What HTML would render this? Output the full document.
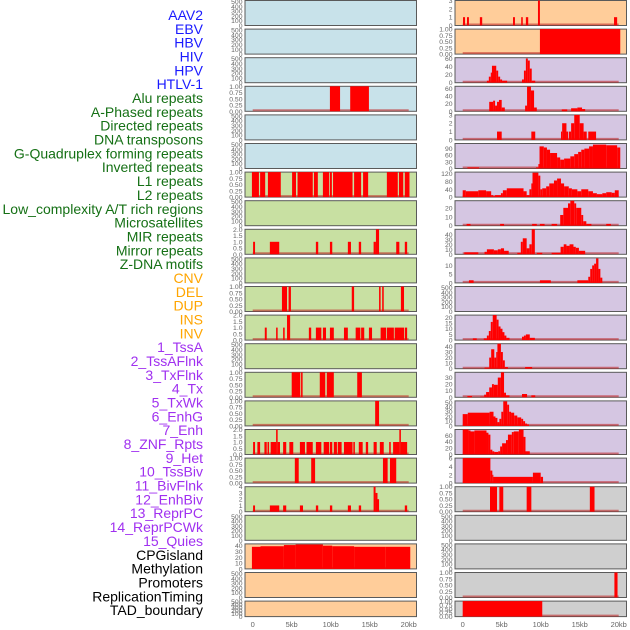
<!DOCTYPE html>
<html><head><meta charset="utf-8"><style>
html,body{margin:0;padding:0;background:#fff;width:630px;height:630px;overflow:hidden}
svg{display:block;font-family:"Liberation Sans",sans-serif}
</style></head><body>
<svg id="chart" width="630" height="630" viewBox="0 0 630 630"></svg>
<script>
const trackLabels = ["AAV2","EBV","HBV","HIV","HPV","HTLV-1","Alu repeats","A-Phased repeats","Directed repeats","DNA transposons","G-Quadruplex forming repeats","Inverted repeats","L1 repeats","L2 repeats","Low_complexity A/T rich regions","Microsatellites","MIR repeats","Mirror repeats","Z-DNA motifs","CNV","DEL","DUP","INS","INV","1_TssA","2_TssAFlnk","3_TxFlnk","4_Tx","5_TxWk","6_EnhG","7_Enh","8_ZNF_Rpts","9_Het","10_TssBiv","11_BivFlnk","12_EnhBiv","13_ReprPC","14_ReprPCWk","15_Quies","CPGisland","Methylation","Promoters","ReplicationTiming","TAD_boundary"];
const labelGroups = [6,13,5,15,5];
const groupColors = ["#1a1aff","#157015","#ffa500","#a030f0","#000000"];
const xTicks = [0,5,10,15,20];
const xTickLabels = ["0","5kb","10kb","15kb","20kb"];

// segments: [startKb, endKb, value]
const L4 = [[9.9,11.2,1],[12.5,14.9,1]];
const L7 = [[-0.1,0.8,1],[0.95,1.6,1],[1.95,3.6,1],[5.05,5.55,1],[5.75,7.7,1],[7.85,8.35,1],[9.0,9.8,1],[9.9,10.15,1],[10.3,12.8,1],[13.0,13.9,1],[14.15,14.8,1],[17.2,18.6,1],[18.75,19.3,1],[19.5,20.1,1]];
const L9 = [[0.05,0.3,1],[2.2,3.4,1],[8.1,8.4,1],[9.9,10.2,1],[12.2,12.6,1],[13.6,13.9,1],[15.5,15.8,1],[15.8,16.2,2],[18.4,18.8,1],[19.5,19.8,1]];
const L11 = [[3.75,4.4,1],[4.6,4.9,1],[12.7,13.0,1],[16.2,16.4,1],[16.6,16.8,1],[19.0,19.4,1]];
const L12 = [[1.55,1.8,1],[3.0,3.2,1],[3.9,4.1,1],[4.4,4.8,2],[7.2,7.5,1],[8.1,8.8,1],[9.0,9.4,1],[9.9,10.4,1],[11.7,12.2,1],[13.2,13.8,1],[13.9,14.3,1],[14.9,15.3,1],[16.4,17.1,1],[17.2,18.1,1],[18.2,19.4,1],[19.5,19.8,1]];
const L14 = [[5.0,6.1,1],[6.2,6.4,1],[8.6,9.3,1],[9.5,10.4,1],[13.4,14.0,1]];
const L15 = [[15.7,16.2,1]];
const L16 = [[0.05,0.3,1],[0.6,0.95,1],[1.5,1.8,1],[1.9,2.1,1],[2.3,3.0,1],[3.0,3.2,2],[3.2,3.5,1],[3.9,4.3,1],[4.7,5.2,1],[6.05,6.7,1],[6.9,7.7,1],[8.1,8.8,1],[9.1,9.8,1],[9.9,10.2,1],[10.4,10.8,1],[10.9,11.4,1],[11.7,12.8,1],[12.9,13.1,1],[13.6,14.1,1],[14.5,14.8,1],[15.5,15.9,1],[16.3,16.8,1],[17.5,17.7,1],[18.0,18.8,1],[18.8,19.0,2],[19.0,19.8,1]];
const L17 = [[5.4,5.9,1],[7.5,8.0,1],[16.7,17.3,1],[17.6,18.4,1]];
const L18 = [[0.05,0.3,1],[2.2,3.4,1],[3.9,4.3,1],[6.05,6.45,1],[8.1,8.4,1],[9.9,10.2,1],[12.2,12.6,1],[13.6,13.9,1],[15.5,15.75,4],[15.75,16.0,3],[16.0,16.2,2],[19.5,19.8,1]];
const L20 = [[-0.1,1,38],[1,4,39],[4,5.5,41],[5.5,9,42],[9,10.2,40],[10.2,13,39],[13,17,38],[17,20.2,38]];

const R1 = [[0.04,0.3,1],[0.55,0.8,1],[2.2,2.5,1],[6.45,6.7,1],[7.5,7.7,1],[8.1,8.4,1],[9.65,9.9,3],[19.4,19.8,1]];
const R2 = [[9.9,20.2,1]];
const R3 = [[3.1,3.35,5],[3.35,3.6,15],[3.6,3.75,25],[3.75,4.3,42],[4.3,4.55,30],[4.55,4.8,15],[4.8,5.05,8],[5.05,5.7,5],[7.6,7.85,8],[7.85,8.1,30],[8.1,8.35,60],[8.35,8.6,55],[8.6,8.85,35],[8.85,9.3,5]];
const R4 = [[3.4,3.9,25],[3.9,4.15,28],[4.15,4.4,15],[4.4,4.65,25],[4.65,5.0,30],[5.0,5.4,10],[8.0,8.25,15],[8.25,8.75,65],[8.75,9.15,55],[9.15,9.5,10],[12.7,13.4,5],[13.9,14.7,8],[14.7,15.3,10],[15.3,15.7,6]];
const R5 = [[4.4,5.0,1],[8.8,9.3,1],[12.6,12.75,1],[12.75,13.3,2],[13.3,13.5,1],[13.6,13.9,1],[13.9,14.3,2],[14.3,15.0,3],[15.0,15.5,2],[15.5,15.9,1],[16.1,17.1,1]];
const R6 = [[0.6,2.1,5],[9.4,9.7,5],[9.7,9.85,20],[9.85,10.4,100],[10.4,10.8,95],[10.8,11.2,85],[11.2,12.1,70],[12.1,12.5,50],[12.5,13.0,40],[13.0,13.8,45],[13.8,14.3,55],[14.3,14.8,65],[14.8,15.2,75],[15.2,15.6,85],[15.6,16.2,90],[16.2,16.7,100],[16.7,18.4,108],[18.4,19.8,105],[19.8,20.2,95]];
const R7 = [[0,0.4,35],[0.4,2.0,30],[2.0,3.0,35],[3.0,3.65,30],[3.65,3.9,10],[3.9,4.15,5],[4.15,4.9,10],[4.9,5.15,20],[5.15,5.65,35],[5.65,7.8,45],[7.8,8.2,30],[8.2,8.55,10],[8.55,8.8,40],[8.8,8.95,70],[8.95,9.7,125],[9.7,9.95,110],[9.95,10.2,40],[10.2,10.7,45],[10.7,11.1,55],[11.1,11.7,70],[11.7,12.1,85],[12.1,12.6,95],[12.6,13.0,70],[13.0,13.6,55],[13.6,14.0,45],[14.0,14.7,40],[14.7,15.2,30],[15.2,16.1,40],[16.1,16.7,30],[16.7,17.2,20],[17.2,17.9,15],[17.9,18.4,20],[18.4,19.1,25],[19.1,19.5,22],[19.5,20.0,35]];
const R8 = [[0.5,1.0,2],[4.8,5.3,2],[8.9,9.5,2],[9.9,10.5,2],[11.4,12.1,2],[12.5,12.9,12],[12.9,13.5,20],[13.5,13.8,25],[13.8,14.3,28],[14.3,14.55,25],[14.55,15.2,20],[15.2,15.45,12],[15.45,15.85,5],[15.85,16.5,2],[18.4,19.0,2]];
const R9 = [[0.2,2.0,4],[2.8,3.1,5],[3.1,4.0,10],[4.0,4.5,8],[4.5,4.9,10],[4.9,5.3,12],[5.3,5.9,7],[7.0,7.45,3],[7.45,7.7,25],[7.7,8.2,32],[8.2,8.55,12],[8.55,8.85,20],[8.85,9.25,50],[9.5,10.2,3],[11.4,12.55,3],[12.55,12.95,15],[12.95,13.3,20],[13.3,13.7,17],[13.7,14.2,20],[14.2,14.5,15],[14.5,14.9,13],[14.9,15.7,7]];
const R10 = [[0.8,1.4,1.5],[9.9,11.3,1.5],[14.7,16.1,1.5],[16.1,16.35,3.5],[16.35,16.6,8],[16.6,16.85,10],[16.85,17.1,11],[17.1,17.4,14],[17.4,17.65,8],[17.65,17.9,3]];
const R12 = [[1.3,1.8,1.5],[2.7,3.1,1.5],[3.1,3.35,4],[3.35,3.6,8],[3.6,3.85,16],[3.85,4.35,22],[4.35,4.6,18],[4.6,4.85,12],[4.85,5.1,10],[5.1,5.35,7],[5.35,5.6,4],[5.6,6.0,2],[7.6,7.85,3],[7.85,8.1,4],[8.1,8.6,5],[8.6,9.25,2]];
const R13 = [[2.8,3.4,2],[3.4,3.65,20],[3.65,4.05,35],[4.05,4.3,20],[4.3,4.45,30],[4.45,4.9,45],[4.9,5.15,30],[5.15,5.4,15],[5.4,5.8,3],[8.0,8.9,3]];
const R14 = [[0.6,1.2,2],[2.25,2.75,1],[2.75,3.0,4],[3.0,3.4,8],[3.4,3.75,15],[3.75,4.0,20],[4.0,4.5,19],[4.5,4.9,30],[4.9,5.3,38],[5.3,5.55,7],[5.55,6.0,3],[7.6,8.25,5],[8.8,9.3,3]];
const R15 = [[0,0.65,25],[0.65,3.45,28],[3.45,3.95,30],[3.95,4.2,20],[4.2,4.45,17],[4.45,4.7,8],[4.7,4.95,15],[4.95,5.2,30],[5.2,5.7,52],[5.7,5.95,45],[5.95,6.2,30],[6.2,6.6,28],[6.6,7.0,22],[7.0,7.5,18],[7.5,7.75,15],[7.75,8.0,10],[8.0,8.25,5],[8.25,8.5,3]];
const R16 = [[0,0.75,78],[0.75,1.0,75],[1.0,1.5,72],[1.5,3.05,75],[3.05,3.3,68],[3.3,3.55,62],[3.55,3.8,15],[3.8,4.05,10],[4.05,4.55,8],[4.55,4.8,10],[4.8,5.05,25],[5.05,5.55,35],[5.55,5.8,45],[5.8,6.3,62],[6.3,6.55,70],[6.55,7.2,72],[7.2,7.8,78],[7.8,8.05,55],[8.05,8.6,10]];
const R17 = [[0,3.55,6],[3.55,3.8,3],[3.8,3.9,2],[3.9,9.0,1.5],[9.0,10.0,2.5],[10.0,10.3,1.5]];
const R18 = [[3.5,4.4,1],[4.7,5.2,1],[8.2,8.8,1],[16.3,16.9,1]];
const R21 = [[19.45,19.85,1]];
const R22 = [[0,10.2,1]];

const emptyTicks = [0,100,200,300,400,500];
const fracTicks = [0,0.25,0.5,0.75,1];
const leftTicks = [emptyTicks,emptyTicks,emptyTicks,fracTicks,emptyTicks,emptyTicks,fracTicks,emptyTicks,[0,0.5,1,1.5,2],emptyTicks,fracTicks,[0,0.5,1,1.5,2],emptyTicks,fracTicks,fracTicks,[0,0.5,1,1.5,2],fracTicks,[0,1,2,3,4],emptyTicks,[0,10,20,30,40],emptyTicks,emptyTicks];
const leftMax = [520,520,520,1,520,520,1,520,2,520,1,2,520,1,1,2,1,4,520,43,520,520];
const leftData = [null,null,null,L4,null,null,L7,null,L9,null,L11,L12,null,L14,L15,L16,L17,L18,null,L20,null,null];
const rightTicks = [[0,1,2,3],fracTicks,[0,20,40,60],[0,20,40,60],[0,1,2,3],[0,30,60,90],[0,40,80,120],[0,10,20],[0,10,20,30,40],[0,5,10],emptyTicks,[0,5,10,15,20],[0,10,20,30,40],[0,10,20,30],[0,10,20,30,40,50],[0,20,40,60],[0,2,4,6],fracTicks,emptyTicks,emptyTicks,fracTicks,fracTicks];
const rightMax = [3,1,62,66,3,113,128,28,50,14.3,520,22,45,38,53,78,6,1,520,520,1,1];
const rightData = [R1,R2,R3,R4,R5,R6,R7,R8,R9,R10,null,R12,R13,R14,R15,R16,R17,R18,null,null,R21,R22];
const leftBg = "#c8e2ea,#c8e2ea,#c8e2ea,#c8e2ea,#c8e2ea,#c8e2ea,#c8e0a2,#c8e0a2,#c8e0a2,#c8e0a2,#c8e0a2,#c8e0a2,#c8e0a2,#c8e0a2,#c8e0a2,#c8e0a2,#c8e0a2,#c8e0a2,#c8e0a2,#ffcd9a,#ffcd9a,#ffcd9a".split(",");
const rightBg = "#ffcd9a,#ffcd9a,#d5c6e2,#d5c6e2,#d5c6e2,#d5c6e2,#d5c6e2,#d5c6e2,#d5c6e2,#d5c6e2,#d5c6e2,#d5c6e2,#d5c6e2,#d5c6e2,#d5c6e2,#d5c6e2,#d5c6e2,#cfcfcf,#cfcfcf,#cfcfcf,#cfcfcf,#cfcfcf".split(",");

const NS = "http://www.w3.org/2000/svg";
const svg = document.getElementById("chart");
function mk(tag, attrs, parent) {
  const e = document.createElementNS(NS, tag);
  for (const k in attrs) e.setAttribute(k, attrs[k]);
  (parent || svg).appendChild(e);
  return e;
}
const ROW0 = 0.5, ROWSTEP = 28.6, PH = 25;
function xScale(side, kb) { return (side === 0 ? 252.7 : 462.7) + kb * 7.8; }
function yScale(top, h, max, v) { return top + h - (v / max) * h; }

// labels
let gi = 0, gc = 0;
trackLabels.forEach((t, i) => {
  while (gc >= labelGroups[gi]) { gi++; gc = 0; }
  gc++;
  const el = mk("text", {x: 203, y: 20 + i * 13.84, "text-anchor": "end", "font-size": 14, fill: groupColors[gi]});
  el.textContent = t;
  
  
});

function drawPanel(side, r, data, ticks, max, bg) {
  const px = side === 0 ? 245 : 455, pw = 171.5;
  const top = ROW0 + r * ROWSTEP;
  const h = r === 21 ? 15.5 : PH;
  const g = mk("g", {});
  
  
  const rect = mk("rect", {x: px, y: top, width: pw, height: h, fill: bg, stroke: "#5a5a5a", "stroke-width": 1}, g);
  
  
  ticks.forEach(t => {
    const y = yScale(top, h, max, t);
    const tx = mk("text", {x: px - 2.5, y: y + 2.5, "text-anchor": "end", "font-size": 6.8, fill: "#666"}, g);
    tx.textContent = (max === 1 ? t.toFixed(2) : (ticks[ticks.length-1] === 2 ? t.toFixed(1) : String(t)));
    
    
  });
  if (!data) return;
  const bl = mk("line", {x1: xScale(side, 0), x2: xScale(side, 20), y1: top + h - 1, y2: top + h - 1, stroke: "rgba(190,30,30,0.55)", "stroke-width": 2}, g);
  
  
  data.forEach(s => {
    const x0 = xScale(side, s[0]), x1 = xScale(side, s[1]);
    const y = Math.max(top, yScale(top, h, max, s[2]));
    const b = mk("rect", {x: x0, y: y, width: Math.max(1, x1 - x0), height: top + h - y, fill: "#ff0000"}, g);
    
    
  });
}
for (let r = 0; r < 22; r++) {
  drawPanel(0, r, leftData[r], leftTicks[r], leftMax[r], leftBg[r]);
  drawPanel(1, r, rightData[r], rightTicks[r], rightMax[r], rightBg[r]);
}
[0, 1].forEach(side => {
  xTicks.forEach((t, i) => {
    const tx = mk("text", {x: xScale(side, t), y: 627, "text-anchor": "middle", "font-size": 7.5, fill: "#666"});
    tx.textContent = xTickLabels[i];
    
    
  });
});
</script>
</body></html>
